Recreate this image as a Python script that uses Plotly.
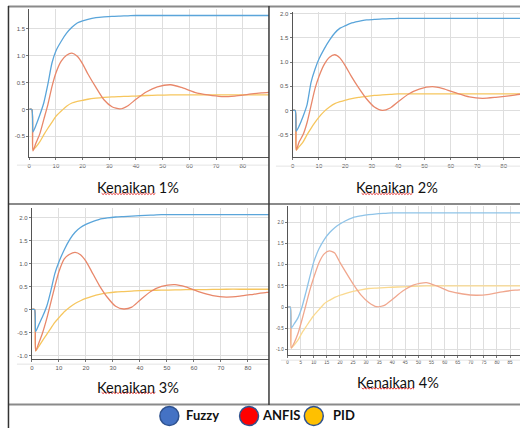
import plotly.graph_objects as go

# ---------------- data ----------------
T = [0, 1, 1.4, 2.5, 4, 5.5, 7, 8.5, 10, 12, 14, 16, 18, 20, 22, 25, 28, 31, 34, 37,
     40, 44, 48, 53, 57, 62, 67, 72, 77, 82, 87, 90]

# Kenaikan 1%
FUZZY_1 = [0, 0, -0.42, -0.3, -0.1, 0.13, 0.47, 0.86, 1.09, 1.27, 1.42, 1.53, 1.61, 1.65, 1.68, 1.71,
           1.725, 1.735, 1.74, 1.745, 1.75, 1.75, 1.75, 1.75, 1.75, 1.75, 1.75, 1.75, 1.75, 1.75, 1.75, 1.75]
ANFIS_1 = [0, 0, -0.77, -0.63, -0.45, -0.18, 0.09, 0.42, 0.68, 0.9, 1.01, 1.05, 0.99, 0.85, 0.66, 0.41,
           0.18, 0.05, 0.01, 0.07, 0.19, 0.33, 0.42, 0.46, 0.41, 0.32, 0.27, 0.24, 0.25, 0.28, 0.31, 0.32]
PID_1 = [0, 0, -0.75, -0.7, -0.6, -0.47, -0.35, -0.24, -0.13, -0.03, 0.06, 0.12, 0.15, 0.17, 0.19, 0.21,
         0.225, 0.235, 0.24, 0.245, 0.25, 0.26, 0.265, 0.27, 0.27, 0.27, 0.27, 0.27, 0.27, 0.27, 0.27, 0.27]

# Kenaikan 2%
FUZZY_2 = [0, 0, -0.43, -0.32, -0.12, 0.12, 0.58, 0.85, 1.06, 1.27, 1.45, 1.6, 1.7, 1.75, 1.8, 1.84,
           1.87, 1.88, 1.89, 1.895, 1.9, 1.9, 1.9, 1.9, 1.9, 1.9, 1.9, 1.9, 1.9, 1.9, 1.9, 1.9]
ANFIS_2 = [0, 0, -0.82, -0.65, -0.5, -0.25, 0.1, 0.45, 0.7, 0.95, 1.1, 1.15, 1.08, 0.92, 0.73, 0.47,
           0.24, 0.07, 0.0, 0.05, 0.18, 0.34, 0.44, 0.49, 0.45, 0.36, 0.28, 0.25, 0.27, 0.3, 0.34, 0.35]
PID_2 = [0, 0, -0.82, -0.75, -0.65, -0.5, -0.37, -0.25, -0.14, -0.02, 0.07, 0.14, 0.18, 0.21, 0.24, 0.27,
         0.29, 0.31, 0.32, 0.33, 0.34, 0.34, 0.34, 0.34, 0.34, 0.34, 0.34, 0.34, 0.34, 0.34, 0.34, 0.34]

# Kenaikan 3%
FUZZY_3 = [0, 0, -0.48, -0.34, -0.15, 0.07, 0.4, 0.78, 1.03, 1.3, 1.52, 1.68, 1.78, 1.85, 1.9, 1.96,
           1.99, 2.01, 2.02, 2.03, 2.04, 2.05, 2.06, 2.06, 2.06, 2.06, 2.06, 2.06, 2.06, 2.06, 2.06, 2.06]
ANFIS_3 = [0, 0, -0.9, -0.74, -0.5, -0.2, 0.15, 0.5, 0.82, 1.1, 1.2, 1.24, 1.19, 1.05, 0.84, 0.52,
           0.26, 0.07, 0.01, 0.05, 0.2, 0.39, 0.5, 0.54, 0.49, 0.38, 0.3, 0.27, 0.29, 0.33, 0.37, 0.38]
PID_3 = [0, 0, -0.9, -0.81, -0.67, -0.54, -0.41, -0.28, -0.18, -0.05, 0.05, 0.13, 0.19, 0.24, 0.28, 0.33,
         0.36, 0.38, 0.39, 0.4, 0.41, 0.415, 0.42, 0.425, 0.43, 0.43, 0.435, 0.44, 0.44, 0.44, 0.44, 0.44]

# Kenaikan 4%
FUZZY_4 = [0, 0, -0.5, -0.4, -0.25, 0.0, 0.35, 0.72, 1.07, 1.38, 1.6, 1.76, 1.88, 1.97, 2.04, 2.12,
           2.16, 2.19, 2.21, 2.22, 2.23, 2.23, 2.23, 2.23, 2.23, 2.23, 2.23, 2.23, 2.23, 2.23, 2.23, 2.23]
ANFIS_4 = [0, 0, -0.97, -0.85, -0.62, -0.3, 0.05, 0.4, 0.7, 1.05, 1.26, 1.33, 1.28, 1.06, 0.85, 0.55,
           0.29, 0.11, 0.01, 0.04, 0.18, 0.38, 0.52, 0.58, 0.5, 0.37, 0.31, 0.28, 0.3, 0.36, 0.4, 0.41]
PID_4 = [0, 0, -0.97, -0.9, -0.78, -0.61, -0.47, -0.33, -0.2, -0.06, 0.08, 0.16, 0.23, 0.28, 0.32, 0.37,
         0.41, 0.44, 0.45, 0.46, 0.47, 0.48, 0.49, 0.5, 0.5, 0.5, 0.5, 0.5, 0.5, 0.5, 0.5, 0.5]

CAPTIONS = ["Kenaikan 1%", "Kenaikan 2%", "Kenaikan 3%", "Kenaikan 4%"]
SERIES = ["Fuzzy", "ANFIS", "PID"]

Y_TICKS_1 = [-0.5, 0, 0.5, 1.0, 1.5]
Y_TEXT_1 = ["-0.5", "0", "0.5", "1.0", "1.5"]
Y_TICKS_2 = [-0.5, 0, 0.5, 1.0, 1.5, 2.0]
Y_TEXT_2 = ["-0.5", "0", "0.5", "1.0", "1.5", "2.0"]
Y_TICKS_3 = [-1.0, -0.5, 0, 0.5, 1.0, 1.5, 2.0]
Y_TEXT_3 = ["-1.0", "-0.5", "0", "0.5", "1.0", "1.5", "2.0"]
X_TICKS_10 = [0, 10, 20, 30, 40, 50, 60, 70, 80]
X_TICKS_5 = list(range(0, 90, 5))

# ---------------- layout helpers ----------------
W, H = 520, 428
def px(x):
    return x / W
def py(y):
    return 1 - y / H

fig = go.Figure()

panels = [
    (FUZZY_1, ANFIS_1, PID_1, (27.3, 268), (8.3, 156.7), (0, 89.8), (-0.892, 1.866), Y_TICKS_1, Y_TEXT_1, X_TICKS_10, 6,
     ("#5aa5da", "#e8876a", "#f6c65e")),
    (FUZZY_2, ANFIS_2, PID_2, (291.7, 520), (10.7, 156.7), (0, 86.2), (-0.97, 2.04), Y_TICKS_2, Y_TEXT_2, X_TICKS_10, 6,
     ("#5aa5da", "#e8876a", "#f6c65e")),
    (FUZZY_3, ANFIS_3, PID_3, (30, 268), (207.3, 359.3), (0, 87.8), (-1.087, 2.21), Y_TICKS_3, Y_TEXT_3, X_TICKS_10, 6,
     ("#5aa5da", "#e8876a", "#f6c65e")),
    (FUZZY_4, ANFIS_4, PID_4, (286.7, 520), (205.7, 355), (0, 88.8), (-1.14, 2.39), Y_TICKS_3, Y_TEXT_3, X_TICKS_5, 4.5,
     ("#8ec3e8", "#f0a78e", "#fad98f")),
]

layout = {}
for i, (fz, an, pi, xd, yd, xr, yr, yt, ytx, xt, fs, cols) in enumerate(panels, start=1):
    xa = "x" if i == 1 else f"x{i}"
    ya = "y" if i == 1 else f"y{i}"
    for name, vals, col in ((SERIES[2], pi, cols[2]), (SERIES[1], an, cols[1]), (SERIES[0], fz, cols[0])):
        fig.add_trace(go.Scatter(x=T, y=vals, mode="lines", name=name, showlegend=False,
                                 line=dict(color=col, width=1.3, shape="spline", smoothing=0.6),
                                 xaxis=xa, yaxis=ya, hoverinfo="skip"))
    axis_common = dict(showgrid=True, gridcolor="#dedede", gridwidth=1, zeroline=False,
                       showline=True, linecolor="#555", linewidth=1, ticks="outside", ticklen=2,
                       tickcolor="#777", tickfont=dict(family="Liberation Sans", size=fs, color="#555"))
    layout["xaxis" if i == 1 else f"xaxis{i}"] = dict(
        domain=[px(xd[0]), px(xd[1])], range=list(xr), anchor=ya,
        tickmode="array", tickvals=xt, ticktext=[str(v) for v in xt], **axis_common)
    layout["yaxis" if i == 1 else f"yaxis{i}"] = dict(
        domain=[py(yd[1]), py(yd[0])], range=list(yr), anchor=xa,
        tickmode="array", tickvals=yt, ticktext=ytx, **axis_common)

fig.update_layout(**layout)

# ---------------- table borders ----------------
shapes = []
def line(x0, y0, x1, y1, color, width):
    shapes.append(dict(type="line", xref="paper", yref="paper", x0=px(x0), y0=py(y0), x1=px(x1), y1=py(y1),
                       line=dict(color=color, width=width), layer="above"))

line(15, 164.5, 268, 164.5, "#e4e4e4", 1)
line(275, 165.5, 520, 165.5, "#e4e4e4", 1)
line(15, 364, 268, 364, "#e4e4e4", 1)
line(280, 360, 520, 360, "#e4e4e4", 1)

line(6, 5.5, 520, 5.5, "#8a8a8a", 2)
line(6, 203.5, 520, 203.5, "#8a8a8a", 2)
line(6, 404.5, 520, 404.5, "#8a8a8a", 2)
line(6.5, 5, 6.5, 428, "#333333", 1.5)
line(268, 5, 268, 405, "#3a3a3a", 1.5)

def squiggle(x0, x1, y):
    pts = []
    x = x0
    k = 0
    while x <= x1:
        pts.append((x, y + (1 if k % 2 else -0.3)))
        x += 1.5
        k += 1
    d = "M " + " L ".join(f"{px(a):.5f},{py(b):.5f}" for a, b in pts)
    shapes.append(dict(type="path", xref="paper", yref="paper", path=d,
                       line=dict(color="#e02020", width=0.9), layer="above"))

squiggle(100, 155, 193)
squiggle(361, 413, 193)
squiggle(100, 155, 392.5)
squiggle(361, 414, 388)

LEG_COLORS = ["#4472c4", "#ff0000", "#ffc000"]
LEG_CX = [168, 248, 313]
LEG_TX = [183, 259, 330]
for cx, col in zip(LEG_CX, LEG_COLORS):
    r = 9.5
    shapes.append(dict(type="circle", xref="paper", yref="paper",
                       x0=px(cx - r), x1=px(cx + r), y0=py(416 + r), y1=py(416 - r),
                       fillcolor=col, line=dict(color="#2f528f", width=1.5), layer="above"))

annotations = []
cap_pos = [(137, 187), (397, 187), (137, 387), (398, 382)]
for txt, (cx, cy) in zip(CAPTIONS, cap_pos):
    annotations.append(dict(text=txt, xref="paper", yref="paper", x=px(cx), y=py(cy),
                            xanchor="center", yanchor="middle", showarrow=False,
                            font=dict(family="Lato", size=14.5, color="#111")))
for name, tx in zip(SERIES, LEG_TX):
    annotations.append(dict(text=f"<b>{name}</b>", xref="paper", yref="paper", x=px(tx), y=py(415),
                            xanchor="left", yanchor="middle", showarrow=False,
                            font=dict(family="Lato", size=13, color="#111")))

fig.update_layout(width=W, height=H, margin=dict(l=0, r=0, t=0, b=0),
                  paper_bgcolor="white", plot_bgcolor="white",
                  shapes=shapes, annotations=annotations, showlegend=False)

fig.write_html("out.html",
               config={"displayModeBar": False},
               post_script="document.body.style.margin='0';document.body.style.padding='0';"
                           "document.body.style.overflow='hidden';"
                           "document.documentElement.style.overflow='hidden';")
